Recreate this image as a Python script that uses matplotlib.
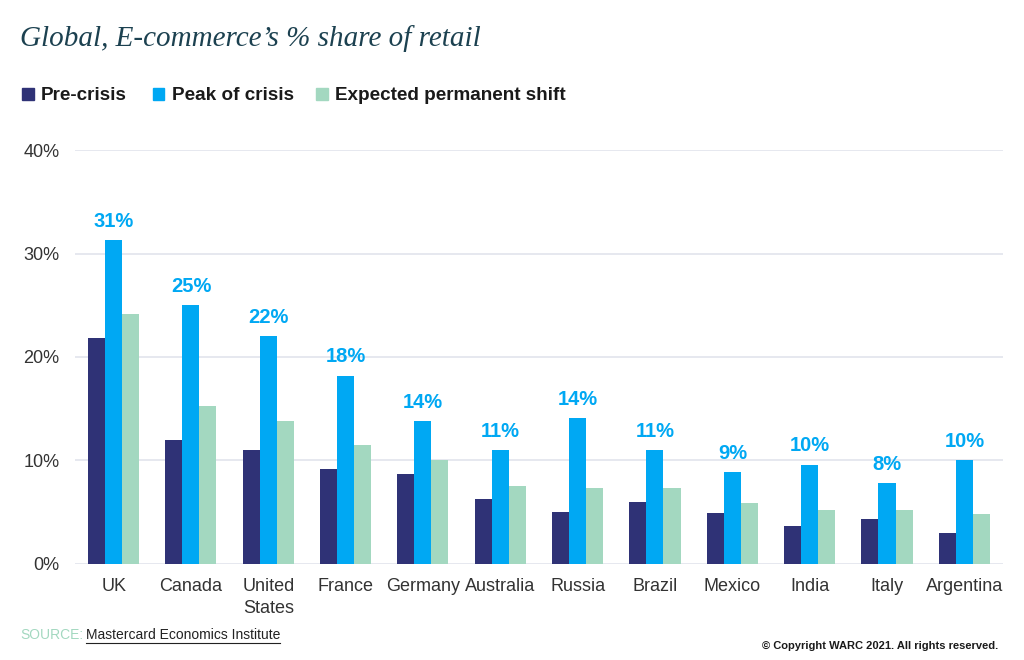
import matplotlib.pyplot as plt
import numpy as np
from matplotlib.lines import Line2D

# data (% share of retail)
countries = ["UK", "Canada", "United\nStates", "France", "Germany", "Australia",
             "Russia", "Brazil", "Mexico", "India", "Italy", "Argentina"]
pre_crisis = [21.8, 12.0, 11.0, 9.2, 8.7, 6.3, 5.0, 6.0, 4.9, 3.7, 4.3, 3.0]
peak_crisis = [31.3, 25.0, 22.0, 18.2, 13.8, 11.0, 14.1, 11.0, 8.9, 9.6, 7.8, 10.0]
permanent_shift = [24.2, 15.3, 13.8, 11.5, 10.0, 7.5, 7.3, 7.3, 5.9, 5.2, 5.2, 4.8]
peak_labels = ["31%", "25%", "22%", "18%", "14%", "11%", "14%", "11%", "9%", "10%", "8%", "10%"]
yticks = [0, 10, 20, 30, 40]

navy = "#2f3276"
blue = "#00a8f3"
mint = "#a3d8c0"

plt.rcParams["font.family"] = ["Liberation Sans", "DejaVu Sans"]

fig = plt.figure(figsize=(10.24, 6.6), dpi=100)
ax = fig.add_axes([0.0732, 0.1455, 0.9063, 0.6272])

x = np.arange(len(countries))
w = 0.22
ax.bar(x - w, pre_crisis, w, color=navy, zorder=3)
ax.bar(x, peak_crisis, w, color=blue, zorder=3)
ax.bar(x + w, permanent_shift, w, color=mint, zorder=3)

for xi, v, lab in zip(x, peak_crisis, peak_labels):
    ax.text(xi, v + 0.9, lab, ha="center", va="bottom", color=blue,
            fontsize=14.5, fontweight="bold")

ax.set_xlim(-0.5, len(countries) - 0.5)
ax.set_ylim(0, 40)
ax.set_yticks(yticks)
ax.set_yticklabels([f"{t}%" for t in yticks])
ax.set_xticks(x)
ax.set_xticklabels(countries, linespacing=1.4)
ax.tick_params(axis="both", length=0, labelsize=13, colors="#333333")
ax.tick_params(axis="y", pad=11)
ax.tick_params(axis="x", pad=10)
ax.grid(axis="y", color="#e1e4ec", linewidth=1.2, zorder=0)
for s in ax.spines.values():
    s.set_visible(False)

# title
fig.text(0.020, 0.942, "Global, E-commerce\u2019s % share of retail",
         family="Liberation Serif", style="italic", fontsize=21,
         color="#1c4150", va="center", ha="left")

# legend built by hand to sit at top-left
leg_items = [("Pre-crisis", navy), ("Peak of crisis", blue),
             ("Expected permanent shift", mint)]
xpos = [0.0215, 0.149, 0.309]
for (name, col), xp in zip(leg_items, xpos):
    fig.patches.append(plt.Rectangle((xp, 0.848), 0.0115, 0.018, color=col,
                                     transform=fig.transFigure, figure=fig))
    fig.text(xp + 0.0185, 0.856, name, fontsize=13.6, fontweight="bold",
             color="#1a1a1a", va="center", ha="left")

# footer
src = fig.text(0.020, 0.038, "SOURCE:", fontsize=10, color=mint,
               va="center", ha="left")
fig.canvas.draw()
r = fig.canvas.get_renderer()
bb = src.get_window_extent(r)
x0 = bb.x1 / fig.bbox.width + 0.002
src2 = fig.text(x0, 0.038, "Mastercard Economics Institute", fontsize=10,
                color="#222222", va="center", ha="left")
bb2 = src2.get_window_extent(r)
yl = bb2.y0 / fig.bbox.height - 0.002
fig.add_artist(Line2D([bb2.x0 / fig.bbox.width, bb2.x1 / fig.bbox.width], [yl, yl],
                      color="#222222", linewidth=0.8, transform=fig.transFigure))
fig.text(0.975, 0.021, "\u00a9 Copyright WARC 2021. All rights reserved.",
         fontsize=8, fontweight="bold", color="#1a1a1a", va="center", ha="right")

fig.savefig("out.png", dpi=100, facecolor="white")
